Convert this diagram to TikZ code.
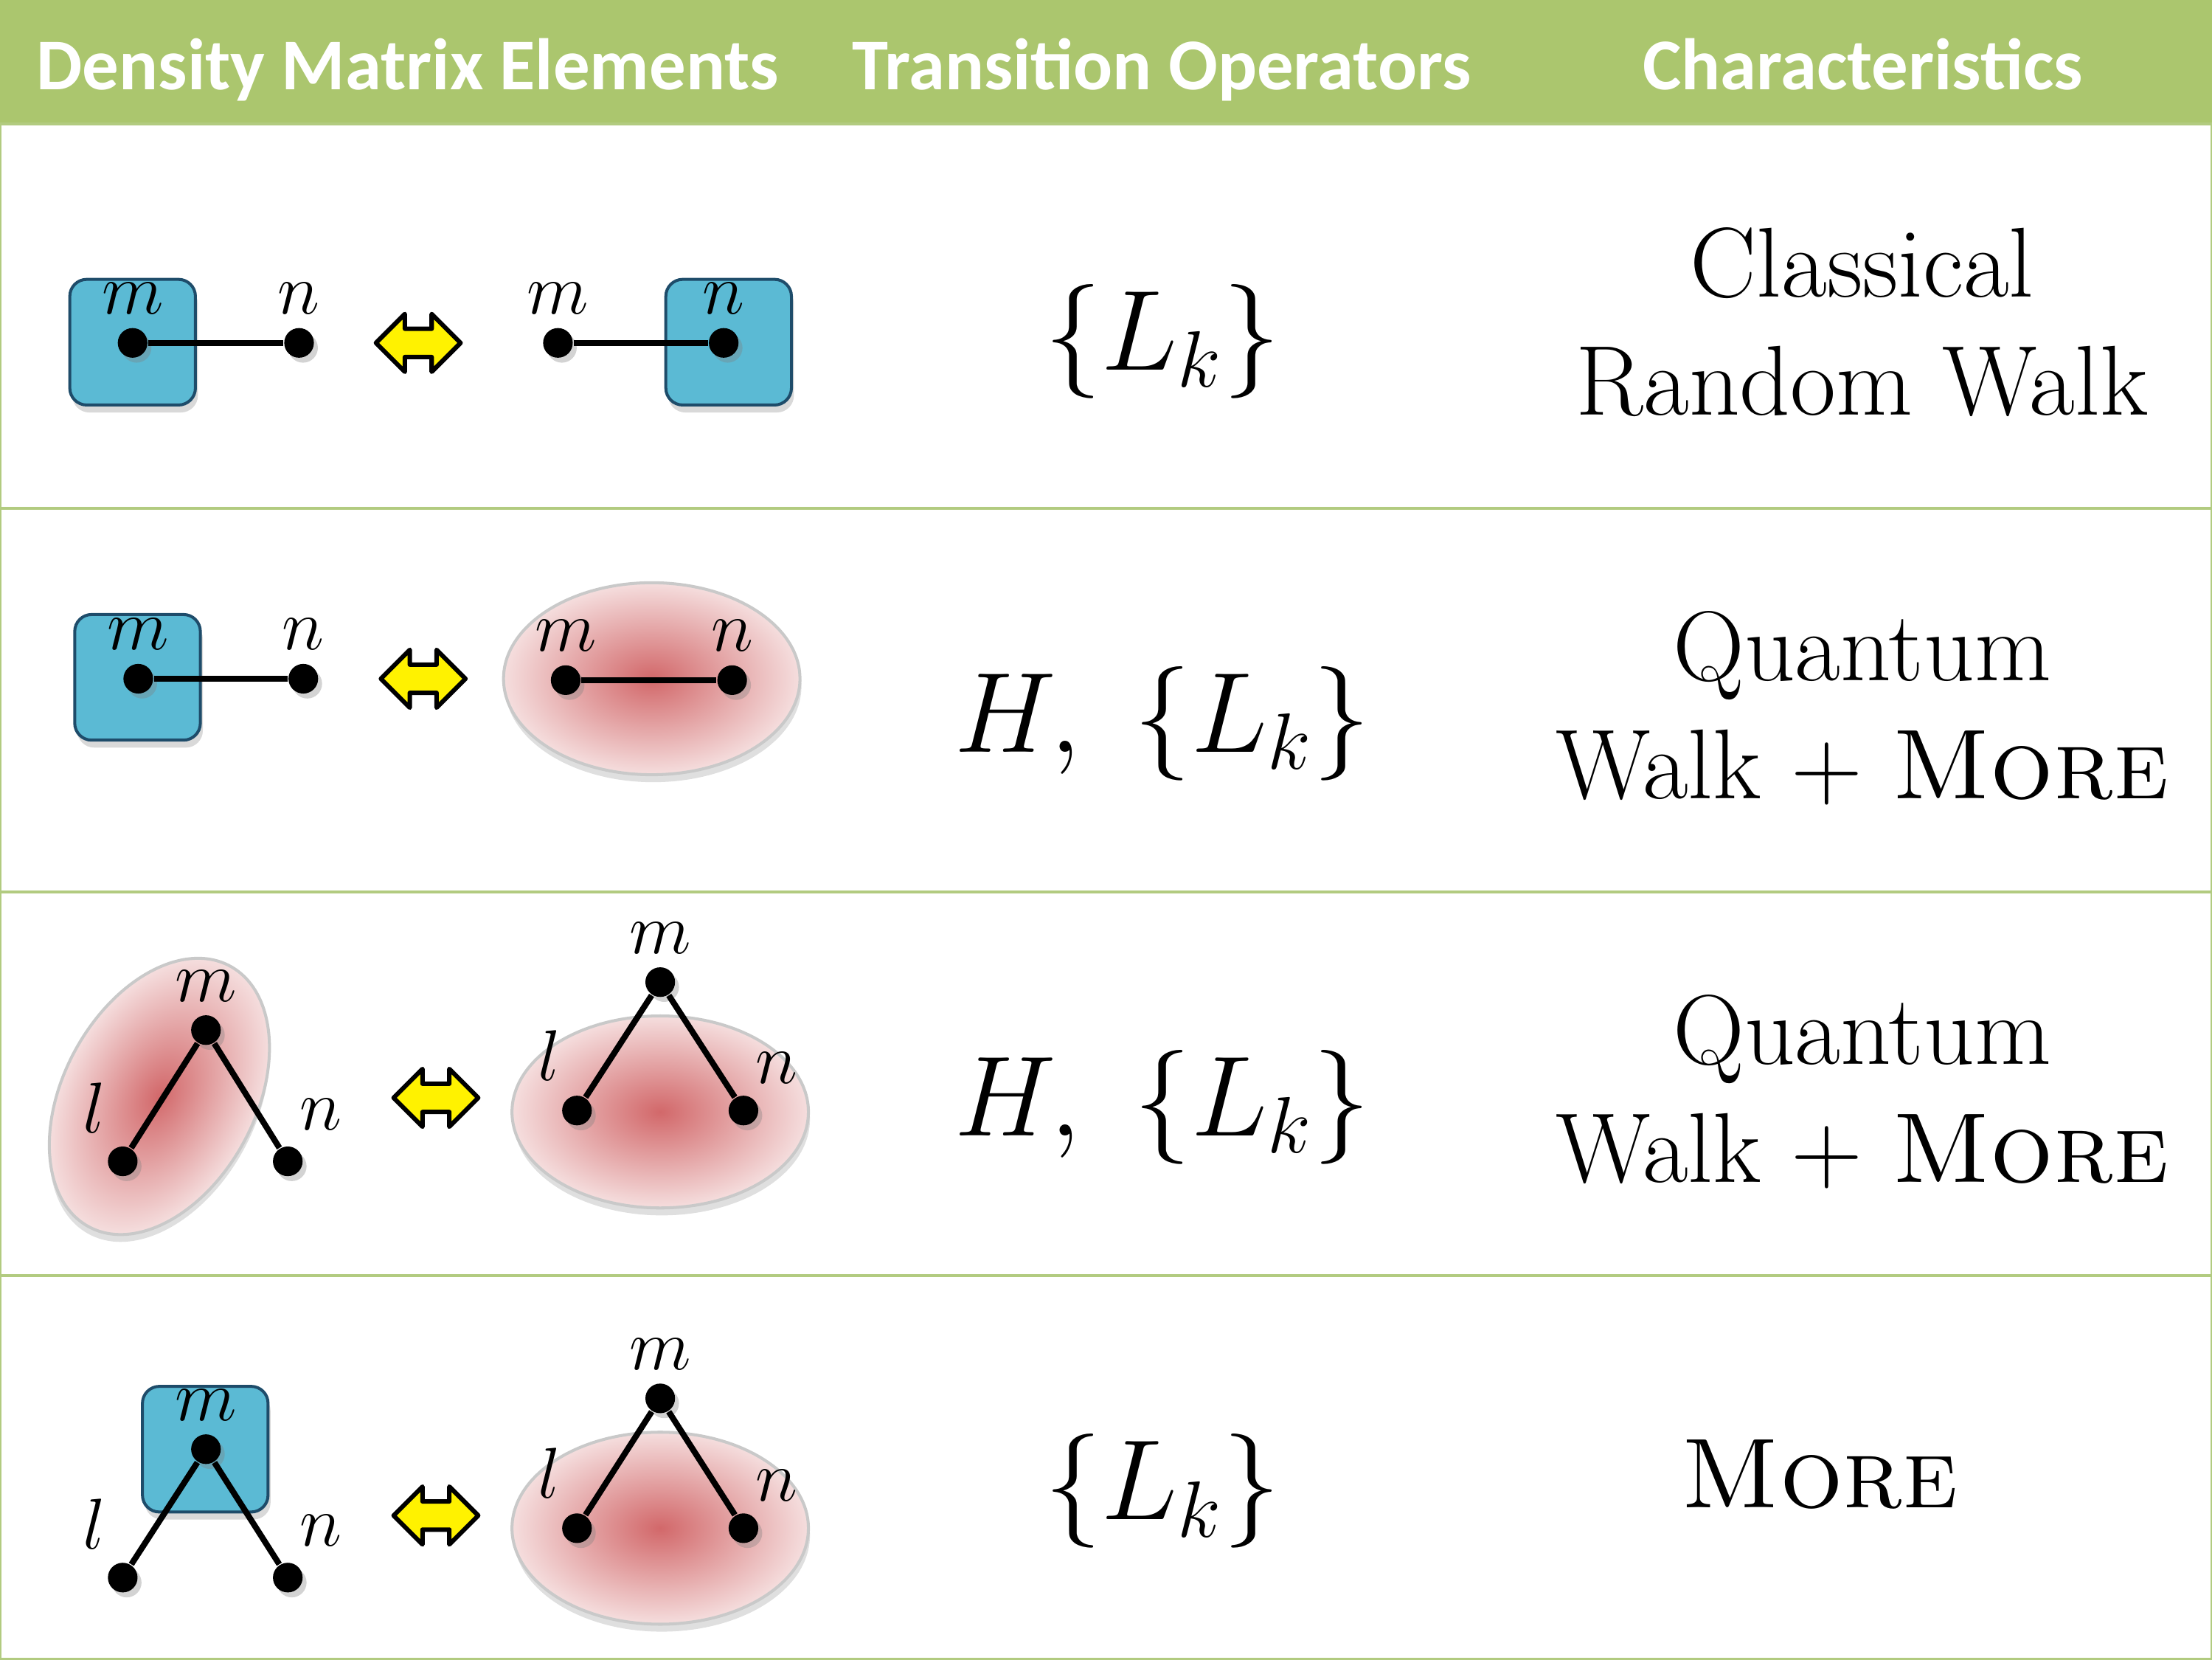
\RequirePackage{fix-cm}
\documentclass[tikz,border=0pt]{standalone}
\usepackage{fontspec}
\newfontfamily\headfont{Carlito}
\usepackage{tikz}
\usetikzlibrary{shapes,positioning,shadows}

\definecolor{headgreen}{HTML}{ABC66E}
\definecolor{rulegreen}{HTML}{B2CB80}
\definecolor{sitefill}{HTML}{5BBAD4}
\definecolor{sitedraw}{HTML}{1E4C6A}
\definecolor{blobcore}{HTML}{D2686A}
\definecolor{blobedge}{HTML}{F5DEDE}
\definecolor{blobdraw}{HTML}{C9C9C9}

\begin{document}
\begin{tikzpicture}[
    x=0.01cm, y=0.01cm,
    header/.style={font=\headfont\bfseries\fontsize{14.7}{17}\selectfont, text=white, anchor=base, inner sep=0},
    site/.style={rectangle, draw=sitedraw, fill=sitefill, line width=0.6pt, rounded corners=0.12cm, minimum width=0.89cm, minimum height=0.89cm, drop shadow={shadow xshift=0.5pt, shadow yshift=-1.5pt, opacity=0.3}},
    blob/.style={ellipse, draw=blobdraw, line width=0.6pt, inner color=blobcore, outer color=blobedge, minimum width=2.1cm, minimum height=1.36cm, inner sep=0},
    blobshadow/.style={drop shadow={shadow xshift=0.3pt, shadow yshift=-1.5pt, opacity=0.25}},
    dot/.style={circle, fill=black, minimum size=0.21cm, inner sep=0, drop shadow={shadow xshift=0.8pt, shadow yshift=-1pt, opacity=0.35}},
    bond/.style={line width=1.2pt},
    lbl/.style={font=\fontsize{14.5}{17}\selectfont, inner sep=0},
    ops/.style={font=\fontsize{23}{27}\selectfont, anchor=base},
    kind/.style={font=\fontsize{20}{23.8}\selectfont, align=center, anchor=base},
    swapline/.style={draw=black, fill=yellow, line width=0.9pt, line join=round},
    swap/.pic={
        \path[swapline] (-30,0) -- (-9.5,20.5) -- (-9.5,10) -- (9.5,10) -- (9.5,20.5) -- (30,0)
            -- (9.5,-20.5) -- (9.5,-10) -- (-9.5,-10) -- (-9.5,-20.5) -- cycle;
    }
]
    \useasboundingbox (0,0) rectangle (1568,-1176);

    % Table frame
    \fill[headgreen] (0,0) rectangle (1568,-88);
    \draw[rulegreen, line width=0.6pt] (0,-88) rectangle (1568,-1176);
    \foreach \y in {360,632,904}
        \draw[rulegreen, line width=0.6pt] (0,-\y) -- (1568,-\y);

    % Column headings
    \node[header] (hElem) at (289,-63.6) {Density Matrix Elements};
    \node[header] (hOps) at (823.5,-63.6) {Transition Operators};
    \node[header] (hChar) at (1320.5,-63.6) {Characteristics};

    % Row 1: classical hop
    \node[site] (box1) at (94,-242.5) {};
    \node[dot] (m1) at (94,-243) {};
    \node[dot] (n1) at (212,-243) {};
    \node[lbl, above=0.085cm of m1] (m1t) {$m$};
    \node[lbl, above=0.085cm of n1] (n1t) {$n$};
    \pic (swap1) at (296.5,-243) {swap};
    \node[site] (box1r) at (516.5,-242.5) {};
    \node[dot] (m1r) at (395.5,-243) {};
    \node[dot] (n1r) at (513,-243) {};
    \node[lbl, above=0.085cm of m1r] (m1rt) {$m$};
    \node[lbl, above=0.085cm of n1r] (n1rt) {$n$};
    \draw[bond] (m1) -- (n1);
    \draw[bond] (m1r) -- (n1r);
    \node[ops] (op1) at (824,-262) {$\{L_k\}$};
    \node[kind] (kind1) at (1320,-294) {Classical\\Random Walk};

    % Row 2: population to coherence
    \node[site] (box2) at (97.5,-480) {};
    \node[dot] (m2) at (98,-481) {};
    \node[dot] (n2) at (215,-481) {};
    \node[lbl, above=0.085cm of m2] (m2t) {$m$};
    \node[lbl, above=0.085cm of n2] (n2t) {$n$};
    \pic (swap2) at (300,-481) {swap};
    \node[blob, blobshadow] (cloud2) at (462,-481) {};
    \node[dot] (m2r) at (401,-482) {};
    \node[dot] (n2r) at (519,-482) {};
    \node[lbl, above=0.085cm of m2r] (m2rt) {$m$};
    \node[lbl, above=0.085cm of n2r] (n2rt) {$n$};
    \draw[bond] (m2) -- (n2);
    \draw[bond] (m2r) -- (n2r);
    \node[ops] (op2) at (824,-533) {$H,\ \{L_k\}$};
    \node[kind] (kind2) at (1320,-566) {Quantum\\Walk + \textsc{More}};

    % Row 3: coherence to coherence
    \begin{scope}[transform canvas={shift={(113,-777)}, rotate=61.5}]
        \node[blob, drop shadow={shadow xshift=-1.3pt, shadow yshift=-0.7pt, opacity=0.25}] (cloud3) at (0,0) {};
    \end{scope}
    \node[dot] (m3) at (146,-730) {};
    \node[dot] (l3) at (87,-823) {};
    \node[dot] (n3) at (204,-823) {};
    \node[lbl, above=0.085cm of m3] (m3t) {$m$};
    \node[lbl, above left=0.116cm and 0.038cm of l3] (l3t) {$l$};
    \node[lbl, above right=0.136cm and 0cm of n3] (n3t) {$n$};
    \pic (swap3) at (309,-778) {swap};
    \node[blob, blobshadow] (cloud3r) at (468,-788) {};
    \node[dot] (m3r) at (468,-696) {};
    \node[dot] (l3r) at (409,-787) {};
    \node[dot] (n3r) at (527,-787) {};
    \node[lbl, above=0.085cm of m3r] (m3rt) {$m$};
    \node[lbl, above left=0.126cm and 0.028cm of l3r] (l3rt) {$l$};
    \node[lbl, above right=0.106cm and 0cm of n3r] (n3rt) {$n$};
    \draw[bond] (l3) -- (m3) -- (n3);
    \draw[bond] (l3r) -- (m3r) -- (n3r);
    \node[ops] (op3) at (824,-805) {$H,\ \{L_k\}$};
    \node[kind] (kind3) at (1320,-838) {Quantum\\Walk + \textsc{More}};

    % Row 4: population to coherence
    \node[site] (box4) at (145.5,-1027) {};
    \node[dot] (m4) at (146,-1027) {};
    \node[dot] (l4) at (87,-1118) {};
    \node[dot] (n4) at (204,-1118) {};
    \node[lbl, above=0.085cm of m4] (m4t) {$m$};
    \node[lbl, above left=0.116cm and 0.038cm of l4] (l4t) {$l$};
    \node[lbl, above right=0.136cm and 0cm of n4] (n4t) {$n$};
    \pic (swap4) at (309,-1074) {swap};
    \node[blob, blobshadow] (cloud4r) at (468,-1083) {};
    \node[dot] (m4r) at (468,-991) {};
    \node[dot] (l4r) at (409,-1083) {};
    \node[dot] (n4r) at (527,-1083) {};
    \node[lbl, above=0.085cm of m4r] (m4rt) {$m$};
    \node[lbl, above left=0.126cm and 0.028cm of l4r] (l4rt) {$l$};
    \node[lbl, above right=0.106cm and 0cm of n4r] (n4rt) {$n$};
    \draw[bond] (l4) -- (m4) -- (n4);
    \draw[bond] (l4r) -- (m4r) -- (n4r);
    \node[ops] (op4) at (824,-1077) {$\{L_k\}$};
    \node[kind] (kind4) at (1290,-1068.6) {\textsc{More}};
\end{tikzpicture}
\end{document}
